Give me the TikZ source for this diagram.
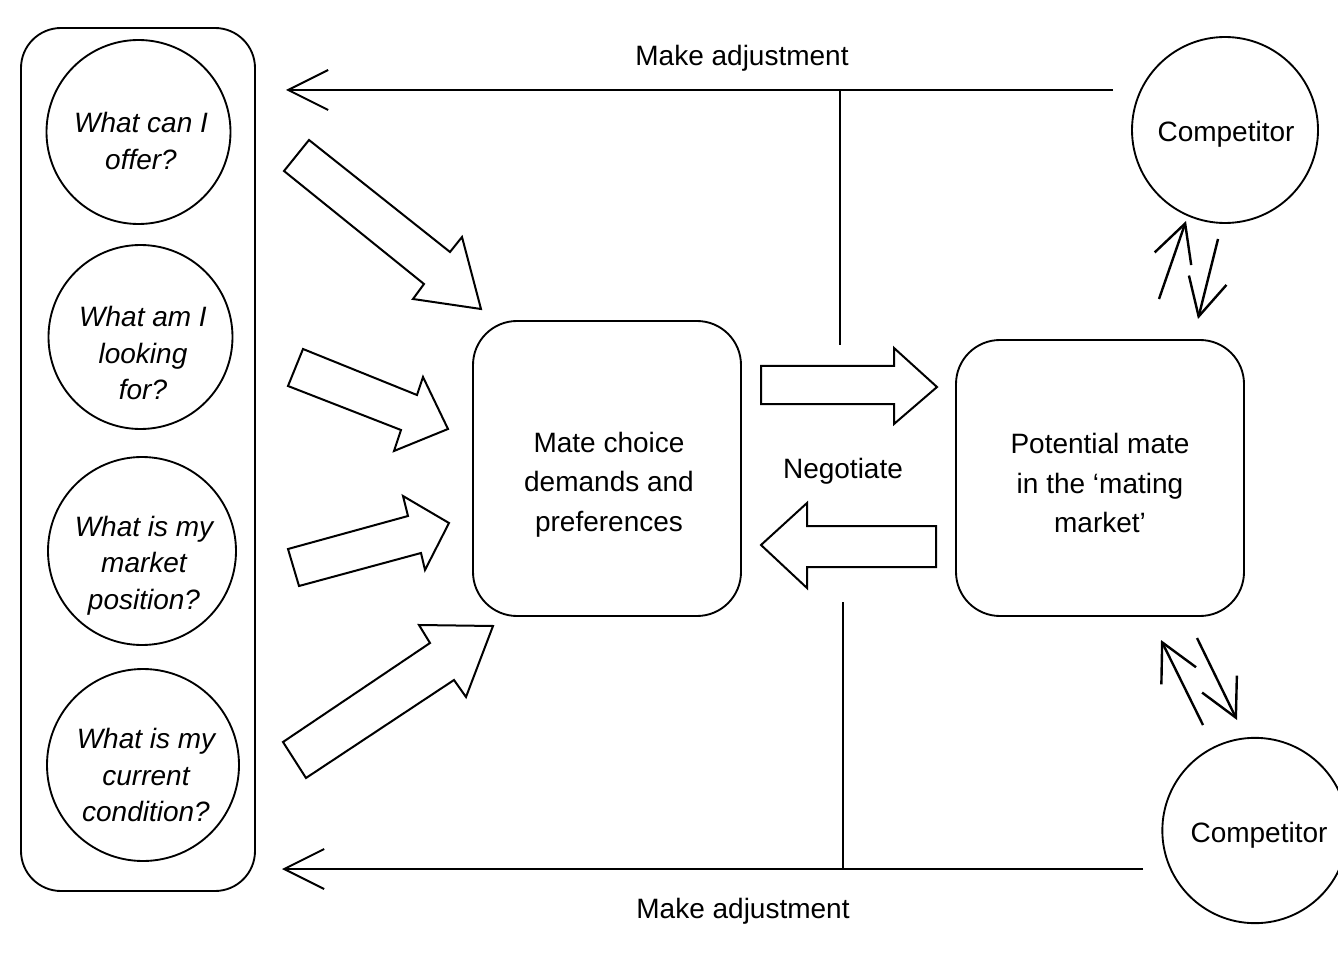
\documentclass[tikz,border=0pt]{standalone}
\usepackage{fontspec}
\setmainfont{Liberation Sans}
\usetikzlibrary{arrows.meta}
\begin{document}
\begin{tikzpicture}[x=0.75pt,y=-0.75pt,
  line width=1.5pt,
  circ/.style={draw, circle, inner sep=0pt, line width=1.4pt},
  rbox/.style={draw, rectangle, rounded corners=33pt, inner sep=0pt, line width=1.4pt},
  frame/.style={draw, rectangle, rounded corners=30pt, inner sep=0pt, line width=1.4pt},
  qtext/.style={align=center, inner sep=0pt, font=\fontsize{21}{27.4}\selectfont\itshape},
  btext/.style={align=center, inner sep=0pt, font=\fontsize{21}{29.6}\selectfont},
  lbl/.style={inner sep=0pt, font=\fontsize{21}{25}\selectfont},
  blockarrow/.style={draw, line width=1.5pt, line join=miter, fill=white},
  adjline/.style={line width=1.5pt},
  adjarrow/.style={line width=1.5pt, -{Straight Barb[length=30pt,width=30pt]}},
  minarr/.style={line width=1.8pt, -{Straight Barb[length=28pt,width=29pt]}},
]
\fill[white] (0,0) rectangle (1338,955);
\useasboundingbox (0,0) rectangle (1338,955);
\clip (0,0) rectangle (1338,955);

% left frame with questions
\node[frame, minimum width=175.5pt, minimum height=647.25pt] (frame) at (138,459.5) {};
\node[circ, minimum size=138pt] (c1) at (138.5,132) {};
\node[circ, minimum size=138pt] (c2) at (140.5,337) {};
\node[circ, minimum size=141pt] (c3) at (142,551) {};
\node[circ, minimum size=144pt] (c4) at (143,765) {};
\node[qtext] (q1) at (141,141) {What can I\\offer?};
\node[qtext] (q2) at (143,353) {What am I\\looking\\for?};
\node[qtext] (q3) at (144,565.5) {What is my\\market\\position?};
\node[qtext] (q4) at (146,775) {What is my\\current\\condition?};

% central boxes
\node[rbox, minimum width=201pt, minimum height=221.25pt] (mc) at (607,468.5) {};
\node[btext] (mct) at (609,484.5) {Mate choice\\demands and\\preferences};
\node[rbox, minimum width=216pt, minimum height=207pt] (pm) at (1100,478) {};
\node[btext] (pmt) at (1100,483) {Potential mate\\in the ‘mating\\market’};

% competitors
\node[circ, minimum size=139.5pt] (cp1) at (1225,130) {};
\node[lbl] (cp1t) at (1226,134) {Competitor};
\node[circ, minimum size=139pt] (cp2) at (1255,830.5) {};
\node[lbl] (cp2t) at (1259,835) {Competitor};

% labels
\node[lbl] (adjtop) at (742,58) {Make adjustment};
\node[lbl] (adjbot) at (743,911) {Make adjustment};
\node[lbl] (neg) at (843,471) {Negotiate};

% block arrows from questions to mate choice
\draw[blockarrow] (309,140) -- (450,252) -- (462,237) -- (481,309) -- (413,299) -- (424,284) -- (284,171) -- cycle;
\draw[blockarrow] (303,349) -- (417,395) -- (423,377) -- (448,429) -- (394,451) -- (401,430) -- (288,386) -- cycle;
\draw[blockarrow] (288,549) -- (408,516) -- (403,496) -- (449,523) -- (425,570) -- (421,553) -- (299,586) -- cycle;
\draw[blockarrow] (283,742) -- (430,643) -- (419,625) -- (493,626) -- (466,697) -- (454,680) -- (306,778) -- cycle;

% negotiate arrows
\draw[blockarrow] (761,366) -- (894,366) -- (894,348) -- (937,387) -- (894,424) -- (894,404) -- (761,404) -- cycle;
\draw[blockarrow] (936,526) -- (807,526) -- (807,503) -- (761,545) -- (807,588) -- (807,567) -- (936,567) -- cycle;

% make adjustment lines
\coordinate (ts) at (1113,90);
\coordinate (te) at (286,90);
\coordinate (tj) at (840,90);
\coordinate (tv) at (840,345);
\draw[adjarrow] (ts) -- (te);
\draw[adjline] (tv) -- (tj);
\coordinate (bs) at (1143,869);
\coordinate (be) at (282,869);
\coordinate (bj) at (843,869);
\coordinate (bv) at (843,602);
\draw[adjarrow] (bs) -- (be);
\draw[adjline] (bv) -- (bj);

% competitor interaction arrows
\coordinate (a1s) at (1159,299);
\coordinate (a1e) at (1186,221);
\coordinate (a2s) at (1218,239);
\coordinate (a2e) at (1198,319);
\coordinate (a3s) at (1203,725);
\coordinate (a3e) at (1161,640);
\coordinate (a4s) at (1197,638);
\coordinate (a4e) at (1237,720);
\draw[minarr] (a1s) -- (a1e);
\draw[minarr] (a2s) -- (a2e);
\draw[minarr] (a3s) -- (a3e);
\draw[minarr] (a4s) -- (a4e);
\end{tikzpicture}
\end{document}
